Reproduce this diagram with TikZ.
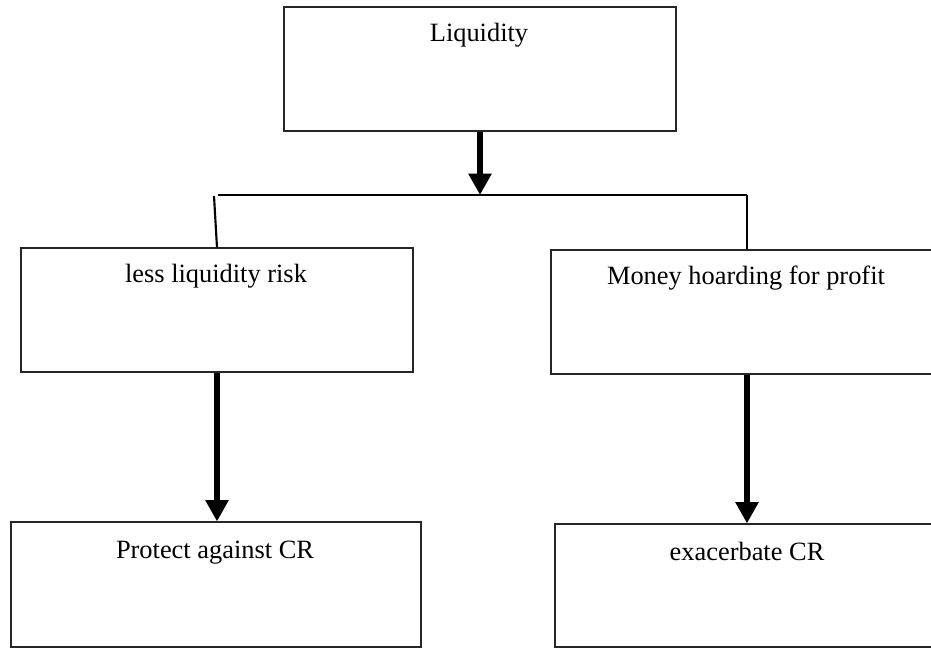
\documentclass[tikz,border=0pt]{standalone}
\usepackage{fontspec}
\setmainfont{Liberation Serif}
\usetikzlibrary{arrows.meta}
\begin{document}
\begin{tikzpicture}[x=0.75pt,y=-0.75pt,
  box/.style={draw=black!85,line width=0.8pt,rectangle,inner sep=0pt},
  txt/.style={anchor=base,inner sep=0pt,font=\fontsize{19.8pt}{23pt}\selectfont},
  bigarrow/.style={line width=5.2pt,-{Triangle[width=16.5pt,length=16pt]}},
  conn/.style={line width=1.6pt}]
\useasboundingbox (0,0) rectangle (931,648);
\fill[white] (0,0) rectangle (931,648);
\begin{scope}
\clip (0,0) rectangle (931,648);
% boxes
\node[box,minimum width=294pt,minimum height=93pt] (top) at (480,69) {};
\node[box,minimum width=294pt,minimum height=93pt] (left) at (217,310) {};
\node[box,minimum width=300pt,minimum height=93pt] (right) at (751,312) {};
\node[box,minimum width=307.5pt,minimum height=93.75pt] (bl) at (216,584.5) {};
\node[box,minimum width=300pt,minimum height=92.25pt] (br) at (755,585.5) {};
% texts
\node[txt] (ttop) at (479,42) {Liquidity};
\node[txt] (tleft) at (216,283) {less liquidity risk};
\node[txt] (tright) at (746,285) {Money hoarding for profit};
\node[txt] (tbl) at (215,558) {Protect against CR};
\node[txt] (tbr) at (747,560) {exacerbate CR};
% connectors
\coordinate (j) at (480,195);
\coordinate (jl) at (218,195);
\coordinate (jr) at (747,195);
\coordinate (lt) at (214,196);
\draw[bigarrow] (top.south) -- (j);
\draw[conn] (jl) -- (jr);
\draw[conn] (jr) -- (jr |- right.north);
\draw[conn] (lt) -- (left.north);
\draw[bigarrow] (left.south) -- (left.south |- bl.north);
\draw[bigarrow] (jr |- right.south) -- (jr |- br.north);
\end{scope}
\end{tikzpicture}
\end{document}
